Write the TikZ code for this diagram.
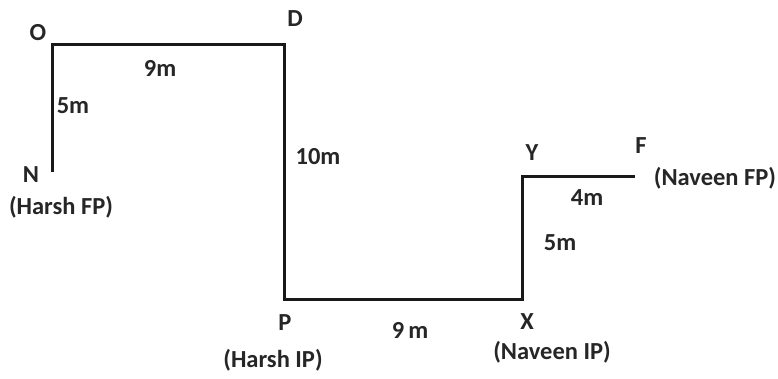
\documentclass[tikz,border=0pt]{standalone}
\usepackage{fontspec}
\setmainfont{Carlito}
\begin{document}
\begin{tikzpicture}[x=1pt,y=-1pt,
  seg/.style={line width=3pt,color=black!90,line cap=butt,line join=miter},
  lbl/.style={font=\fontsize{24.5}{27}\selectfont\bfseries,text=black!85,inner sep=0pt,anchor=center}]
\useasboundingbox (0,0) rectangle (778,379);
\coordinate (N) at (52,172);
\coordinate (O) at (52,45);
\coordinate (D) at (284,45);
\coordinate (P) at (284,299);
\coordinate (X) at (522,299);
\coordinate (Y) at (522,177);
\coordinate (F) at (635,177);
\draw[seg] (N) -- (O) -- (D) -- (P) -- (X) -- (Y) -- (F);
\node[lbl] (lO) at (38,33) {O};
\node[lbl] (lD) at (295,19) {D};
\node[lbl] (l9a) at (160,68) {9m};
\node[lbl] (l5a) at (73,106) {5m};
\node[lbl] (lN) at (31,175) {N};
\node[lbl] (lHF) at (61,207) {(Harsh FP)};
\node[lbl] (l10) at (318,157) {10m};
\node[lbl] (lP) at (285,323) {P};
\node[lbl] (lHI) at (273,360) {(Harsh IP)};
\node[lbl] (l9b) at (410,330) {9\,m};
\node[lbl] (lX) at (527,322) {X};
\node[lbl] (lNI) at (552,352) {(Naveen IP)};
\node[lbl] (lY) at (532,153) {Y};
\node[lbl] (lF) at (641,146) {F};
\node[lbl] (lNF) at (715,178) {(Naveen FP)};
\node[lbl] (l4) at (587,198) {4m};
\node[lbl] (l5b) at (560,243) {5m};
\end{tikzpicture}
\end{document}
